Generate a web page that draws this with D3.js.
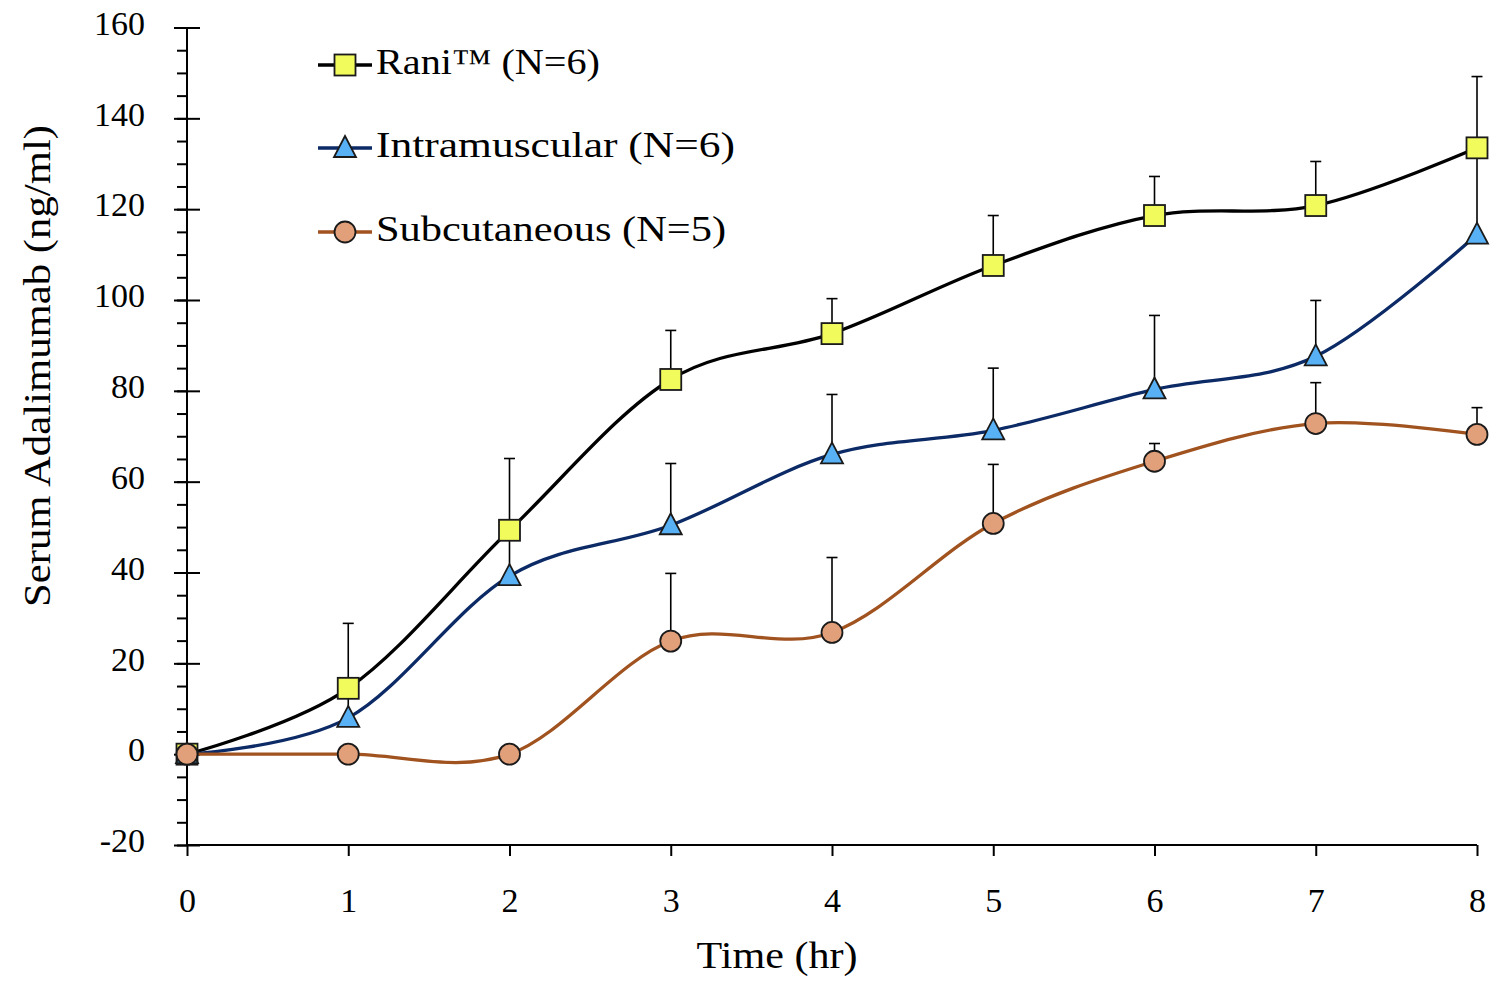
<!DOCTYPE html>
<html>
<head>
<meta charset="utf-8">
<script src="https://cdn.jsdelivr.net/npm/d3@7"></script>
<style>
  html, body { margin: 0; padding: 0; background: #fff; }
  svg { display: block; }
  text { font-family: "Liberation Serif", "Times New Roman", serif; fill: #000; }
</style>
</head>
<body>
<svg id="chart" width="1491" height="983"></svg>
<script>
// ---- data ----
const hours = [0, 1, 2, 3, 4, 5, 6, 7, 8];
const raniMean = [0, 14.5, 49.3, 82.5, 92.6, 107.6, 118.6, 120.8, 133.5];
const raniSD   = [0, 14.3, 15.8, 10.8, 7.7, 11.0, 8.6, 9.7, 15.7];
const imMean   = [0, 8.0, 39.2, 50.4, 66.0, 71.3, 80.3, 87.6, 114.4];
const imSD     = [0, 4.5, 9.5, 13.6, 13.2, 13.7, 16.3, 12.3, 19.5];
const scMean   = [0, 0, 0, 24.9, 26.8, 50.8, 64.5, 72.8, 70.4];
const scSD     = [0, 0, 0, 14.9, 16.5, 13.0, 3.9, 9.0, 5.9];
const seriesNames = ["Rani\u2122 (N=6)", "Intramuscular (N=6)", "Subcutaneous (N=5)"];
const yTicks = [-20, 0, 20, 40, 60, 80, 100, 120, 140, 160];
const xTicks = [0, 1, 2, 3, 4, 5, 6, 7, 8];
const xTitle = "Time (hr)";
const yTitle = "Serum Adalimumab (ng/ml)";

// ---- layout ----
const svg = d3.select("#chart");
const x = d3.scaleLinear().domain([0, 8]).range([187, 1477]);
const y = d3.scaleLinear().domain([-20, 160]).range([845, 27.5]);

const series = [
  { name: seriesNames[0], mean: raniMean, sd: raniSD, line: "#000000", fill: "#f2fb5c", shape: "square" },
  { name: seriesNames[1], mean: imMean,   sd: imSD,   line: "#0b2a66", fill: "#58b0f5", shape: "triangle" },
  { name: seriesNames[2], mean: scMean,   sd: scSD,   line: "#a0521f", fill: "#e19f7a", shape: "circle" }
];

// ---- axes ----
const yMinor = d3.range(-20, 160.001, 5);
const yAxisMinor = d3.axisLeft(y).tickValues(yMinor).tickSize(10).tickFormat("");
svg.append("g").attr("transform", `translate(${x(0)},0)`).call(yAxisMinor)
  .call(g => g.select(".domain").remove())
  .call(g => g.selectAll("line").attr("stroke", "#000").attr("stroke-width", 2));

const yAxis = d3.axisLeft(y).tickValues(yTicks).tickSize(13).tickPadding(30)
  .tickFormat(d => d < 0 ? "-" + Math.abs(d) : d);
svg.append("g").attr("transform", `translate(${x(0)},0)`).call(yAxis)
  .call(g => g.select(".domain").attr("stroke", "#000").attr("stroke-width", 2).attr("d", `M0,${y(160)}V${y(-20)}`))
  .call(g => g.selectAll(".tick line").attr("stroke", "#000").attr("stroke-width", 2).attr("x2", 13).attr("x1", -13))
  .call(g => g.selectAll(".tick text").attr("font-size", 34).attr("font-family", "Liberation Serif").attr("dy", "0.2em").attr("x", -42));

const xAxis = d3.axisBottom(x).tickValues(xTicks).tickSize(11).tickPadding(32).tickFormat(d3.format("d"));
svg.append("g").attr("transform", `translate(0,${y(-20)})`).call(xAxis)
  .call(g => g.select(".domain").attr("stroke", "#000").attr("stroke-width", 2).attr("d", `M${x(0)},0H${x(8)}`))
  .call(g => g.selectAll(".tick line").attr("stroke", "#000").attr("stroke-width", 2))
  .call(g => g.selectAll(".tick text").attr("font-size", 34).attr("font-family", "Liberation Serif"));

// axis titles
svg.append("text").attr("x", 777).attr("y", 968).attr("text-anchor", "middle")
  .attr("font-size", 37).attr("textLength", 161).attr("lengthAdjust", "spacingAndGlyphs").text(xTitle);
svg.append("text").attr("transform", `translate(50,366) rotate(-90)`).attr("text-anchor", "middle")
  .attr("font-size", 37).attr("textLength", 482).attr("lengthAdjust", "spacingAndGlyphs").text(yTitle);

// ---- lines ----
const lineGen = d3.line().x(d => x(d[0])).y(d => y(d[1])).curve(d3.curveCardinal.tension(0));
series.forEach(s => {
  svg.append("path").datum(hours.map((h, i) => [h, s.mean[i]]))
    .attr("d", lineGen).attr("fill", "none").attr("stroke", s.line).attr("stroke-width", 3.3);
});

// ---- error bars ----
series.forEach(s => {
  const g = svg.append("g");
  hours.forEach((h, i) => {
    if (s.sd[i] <= 0) return;
    const cx = x(h), y0 = y(s.mean[i]), y1 = y(s.mean[i] + s.sd[i]);
    g.append("line").attr("x1", cx).attr("x2", cx).attr("y1", y0).attr("y2", y1)
      .attr("stroke", "#000").attr("stroke-width", 1.6);
    g.append("line").attr("x1", cx - 5.5).attr("x2", cx + 5.5).attr("y1", y1).attr("y2", y1)
      .attr("stroke", "#000").attr("stroke-width", 1.6);
  });
});

// ---- markers ----
function drawMarker(g, shape, cx, cy, fill) {
  if (shape === "square") {
    g.append("rect").attr("x", cx - 10.5).attr("y", cy - 10.5).attr("width", 21).attr("height", 21)
      .attr("fill", fill).attr("stroke", "#1a1a1a").attr("stroke-width", 1.8);
  } else if (shape === "triangle") {
    g.append("path").attr("d", `M${cx},${cy - 12}L${cx + 11},${cy + 9}L${cx - 11},${cy + 9}Z`)
      .attr("fill", fill).attr("stroke", "#1a1a1a").attr("stroke-width", 1.8);
  } else {
    g.append("circle").attr("cx", cx).attr("cy", cy).attr("r", 10.5)
      .attr("fill", fill).attr("stroke", "#1a1a1a").attr("stroke-width", 1.8);
  }
}
series.forEach(s => {
  const g = svg.append("g");
  hours.forEach((h, i) => drawMarker(g, s.shape, x(h), y(s.mean[i]), s.fill));
});

// ---- legend ----
const legendRows = [62, 145, 229];
const legendWidths = [224, 359, 350];
series.forEach((s, i) => {
  const ly = legendRows[i];
  const g = svg.append("g");
  g.append("line").attr("x1", 318).attr("x2", 372).attr("y1", ly + 3).attr("y2", ly + 3)
    .attr("stroke", s.line).attr("stroke-width", 3.3);
  drawMarker(g, s.shape, 345, ly + 3, s.fill);
  g.append("text").attr("x", 376).attr("y", ly + 12).attr("font-size", 36)
    .attr("textLength", legendWidths[i]).attr("lengthAdjust", "spacingAndGlyphs").text(s.name);
});
</script>
</body>
</html>
